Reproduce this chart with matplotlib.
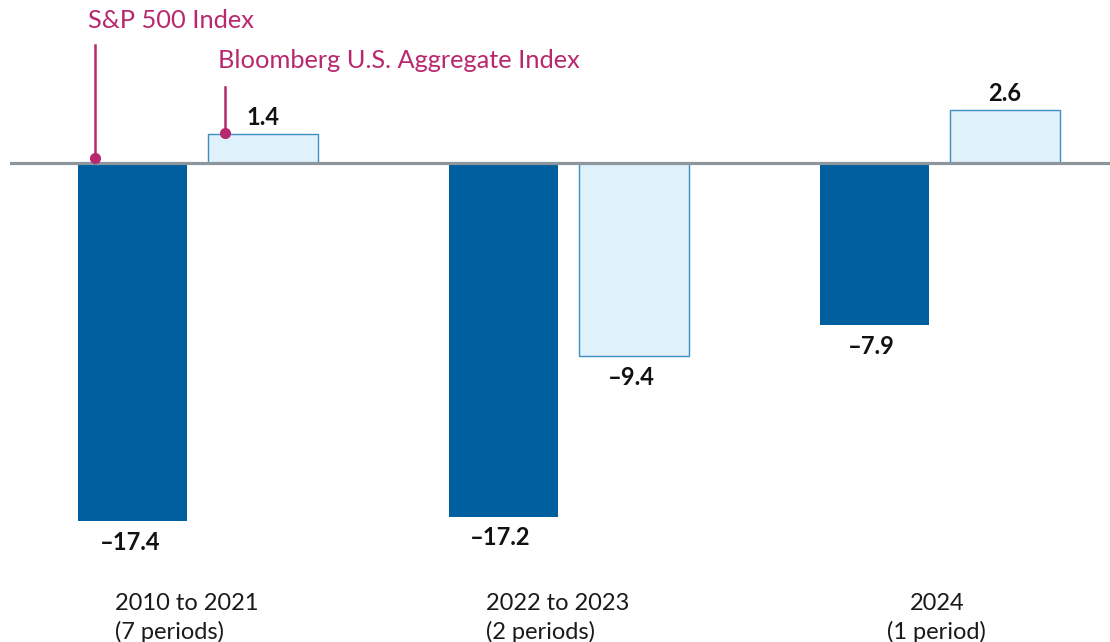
import matplotlib
matplotlib.use("Agg")
import matplotlib.pyplot as plt
import numpy as np

categories = ["2010 to 2021\n(7 periods)", "2022 to 2023\n(2 periods)", "2024\n(1 period)"]
sp500 = [-17.4, -17.2, -7.9]
bloomberg = [1.4, -9.4, 2.6]
series_names = ["S&P 500 Index", "Bloomberg U.S. Aggregate Index"]

DARK = "#005f9e"
LIGHT = "#dff1fa"
LIGHT_EDGE = "#3d8fc2"
MAGENTA = "#b8286f"
GRAY = "#8c969c"

plt.rcParams['font.family'] = ['Lato', 'DejaVu Sans']

fig = plt.figure(figsize=(11.1, 6.42), dpi=100)
ax = fig.add_axes([10/1110, 0, 1100/1110, 1])
ax.set_xlim(-0.506, 2.459)
ax.set_ylim(-23.29, 7.924)
ax.axis('off')

x = np.arange(len(categories))
off = 0.176
w = 0.294

ax.bar(x - off, sp500, width=w, color=DARK, zorder=2)
ax.bar(x + off, bloomberg, width=w, color=LIGHT, edgecolor=LIGHT_EDGE, linewidth=1.0, zorder=2)
ax.axhline(0, color=GRAY, lw=2.3, zorder=3)

def fmt(v):
    s = f"{abs(v):.1f}"
    return ("\u2013" + s) if v < 0 else s

for xs, vals in ((x - off, sp500), (x + off, bloomberg)):
    for xi, v in zip(xs, vals):
        if v >= 0:
            ax.annotate(fmt(v), (xi, v), xytext=(0, 3.5), textcoords='offset points',
                        ha='center', va='bottom', fontsize=17, fontweight='bold', color='#111111')
        else:
            ax.annotate(fmt(v), (xi, v), xytext=(-2, -7), textcoords='offset points',
                        ha='center', va='top', fontsize=17, fontweight='bold', color='#111111')

# category labels
aligns = ['left', 'left', 'center']
for xi, cat, ha in zip(x, categories, aligns):
    xx = xi - 0.223 if ha == 'left' else xi - 0.008
    ax.text(xx, -20.9, cat, ha=ha, va='top', multialignment=ha,
            fontsize=17, color='#1a1a1a', linespacing=1.38)

# series annotations
# S&P 500
sx = x[0] - off - w/2 + 0.046
ax.plot([sx, sx], [0.24, 5.74], color=MAGENTA, lw=1.8, zorder=4)
ax.plot([sx], [0.24], 'o', color=MAGENTA, ms=7, zorder=5)
ax.text(sx - 0.02, 6.95, series_names[0], ha='left', va='center', fontsize=18.3,
        color=MAGENTA)
# Bloomberg
bx = x[0] + off - w/2 + 0.045
ax.plot([bx, bx], [bloomberg[0] + 0.06, 3.69], color=MAGENTA, lw=1.8, zorder=4)
ax.plot([bx], [bloomberg[0] + 0.06], 'o', color=MAGENTA, ms=7, zorder=5)
ax.text(bx - 0.02, 4.96, series_names[1], ha='left', va='center', fontsize=18.3,
        color=MAGENTA)

fig.savefig("out.png", dpi=100)
